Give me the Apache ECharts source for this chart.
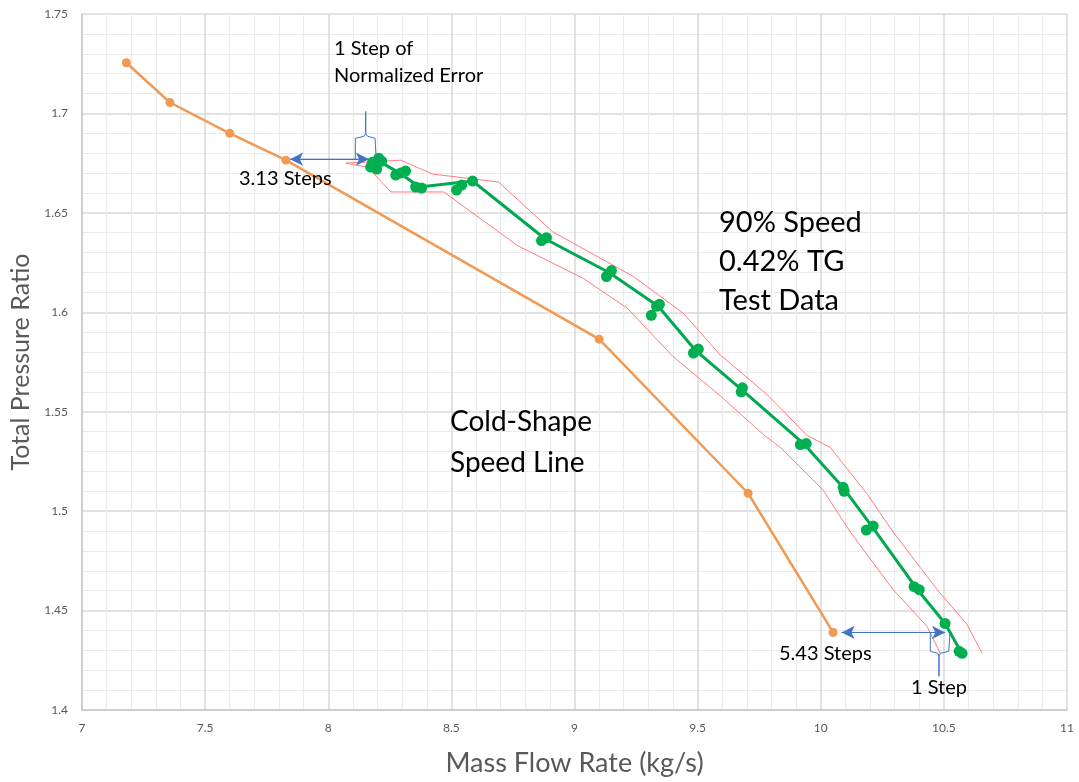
<!DOCTYPE html>
<html>
<head>
<meta charset="utf-8">
<script src="https://cdn.jsdelivr.net/npm/echarts@6/dist/echarts.min.js"></script>
<style>html,body{margin:0;padding:0;background:#fff}#c{width:1079px;height:782px}</style>
</head>
<body>
<div id="c"></div>
<script>
// Cold-shape speed line (orange)
const coldShape = [[7.18,1.7255],[7.357,1.7055],[7.60,1.690],[7.828,1.6765],[9.10,1.5865],[9.705,1.509],[10.05,1.439]];
// Test data points (green dots)
const testPoints = [
  [8.18,1.6755],[8.205,1.6775],[8.172,1.673],[8.197,1.672],[8.217,1.676],
  [8.274,1.669],[8.294,1.670],[8.314,1.671],
  [8.355,1.663],[8.379,1.6625],
  [8.521,1.6615],[8.542,1.664],[8.586,1.666],
  [8.866,1.636],[8.886,1.6375],
  [9.130,1.618],[9.150,1.621],
  [9.333,1.603],[9.345,1.604],[9.312,1.5985],
  [9.483,1.5795],[9.503,1.5815],
  [9.677,1.560],[9.682,1.562],
  [9.917,1.5335],[9.941,1.534],
  [10.091,1.512],[10.095,1.510],
  [10.185,1.4905],[10.213,1.4925],
  [10.379,1.462],[10.400,1.4605],
  [10.505,1.4435],
  [10.562,1.4295],[10.574,1.4285]
];
// Test data speed line (green line through point groups)
const testLine = [[8.205,1.676],[8.29,1.670],[8.37,1.663],[8.586,1.666],[8.88,1.637],[9.14,1.620],[9.34,1.603],[9.49,1.581],[9.68,1.561],[9.93,1.534],[10.09,1.512],[10.21,1.492],[10.39,1.461],[10.505,1.4435],[10.57,1.429]];
// Normalized error band (red), upper and lower edges
const bandUpper = [[8.071,1.675],[8.294,1.6765],[8.424,1.6695],[8.692,1.6655],[8.911,1.6405],[9.239,1.618],[9.442,1.5995],[9.592,1.5785],[9.783,1.5585],[9.945,1.538],[10.039,1.532],[10.189,1.5085],[10.294,1.4895],[10.473,1.4605],[10.594,1.443],[10.655,1.4285]];
const bandLower = [[8.071,1.675],[8.160,1.673],[8.254,1.6605],[8.469,1.6605],[8.769,1.6335],[9.036,1.617],[9.215,1.602],[9.398,1.578],[9.592,1.558],[9.767,1.5385],[9.836,1.532],[10.010,1.5105],[10.120,1.4895],[10.294,1.4605],[10.432,1.442],[10.485,1.4285]];
// Annotation arrows (step distances)
const arrowTop = [[7.845,1.677],[8.165,1.677]];
const arrowBottom = [[10.085,1.439],[10.505,1.439]];
// Braces (1 step)
const braceTop = [[8.11,1.6765],[8.11,1.6875],[8.145,1.6885],[8.152,1.690],[8.152,1.701],[8.152,1.690],[8.16,1.6885],[8.19,1.6875],[8.195,1.6765]];
const braceBottom = [[10.445,1.439],[10.445,1.4295],[10.475,1.4285],[10.48,1.427],[10.48,1.417],[10.48,1.427],[10.485,1.4285],[10.52,1.4295],[10.525,1.439]];

const xTicks = {min:7, max:11, interval:0.5};
const yTicks = {min:1.4, max:1.75, interval:0.05};

const FONT = 'Lato';
const chart = echarts.init(document.getElementById('c'), null, {renderer:'canvas'});
const blue = '#4472c4';
function txt(left, top, text, size, lh){
  return {type:'text', left:left, top:top, z:100,
    style:{text:text, fontFamily:FONT, fontSize:size, fill:'#000', lineHeight:lh||size*1.2}};
}
const option = {
  animation:false,
  backgroundColor:'#fff',
  grid:{left:81, right:12, top:14, bottom:68, containLabel:false},
  xAxis:{
    type:'value', min:xTicks.min, max:xTicks.max, interval:xTicks.interval,
    name:'Mass Flow Rate (kg/s)', nameLocation:'middle', nameGap:40,
    nameTextStyle:{fontFamily:FONT, fontSize:27, color:'#595959'},
    axisLine:{show:true, lineStyle:{color:'#c8c8c8', width:1.5}},
    axisTick:{show:false},
    axisLabel:{fontFamily:FONT, fontSize:12, color:'#595959', margin:12, formatter:v=>String(+v.toFixed(2))},
    splitLine:{show:true, lineStyle:{color:'#d9d9d9', width:1.5}},
    minorTick:{show:false, splitNumber:5},
    minorSplitLine:{show:true, lineStyle:{color:'#ebebeb', width:1.2}}
  },
  yAxis:{
    type:'value', min:yTicks.min, max:yTicks.max, interval:yTicks.interval,
    name:'Total Pressure Ratio', nameLocation:'middle', nameGap:49, nameRotate:90,
    nameTextStyle:{fontFamily:FONT, fontSize:25, color:'#595959'},
    axisLine:{show:true, lineStyle:{color:'#c8c8c8', width:1.5}},
    axisTick:{show:false},
    axisLabel:{fontFamily:FONT, fontSize:12, color:'#595959', margin:14, formatter:v=>String(+v.toFixed(2))},
    splitLine:{show:true, lineStyle:{color:'#d9d9d9', width:1.5}},
    minorTick:{show:false, splitNumber:5},
    minorSplitLine:{show:true, lineStyle:{color:'#ebebeb', width:1.2}}
  },
  series:[
    {type:'line', data:bandUpper, symbol:'none', lineStyle:{color:'#ff7c80', width:1}, z:2},
    {type:'line', data:bandLower, symbol:'none', lineStyle:{color:'#ff7c80', width:1}, z:2},
    {type:'line', data:coldShape, symbol:'circle', symbolSize:9,
      itemStyle:{color:'#f19a55'}, lineStyle:{color:'#f19a55', width:2.5}, z:3},
    {type:'line', data:testLine, symbol:'none', lineStyle:{color:'#00a84f', width:3}, z:4},
    {type:'scatter', data:testPoints, symbolSize:11, itemStyle:{color:'#00b050', opacity:1}, z:5},
    {type:'line', data:braceTop, symbol:'none', lineStyle:{color:blue, width:1}, z:6},
    {type:'line', data:braceBottom, symbol:'none', lineStyle:{color:blue, width:1}, z:6},
    {type:'line', data:arrowTop, symbol:'none', lineStyle:{color:blue, width:1}, z:6,
      markLine:{silent:true, symbol:['arrow','arrow'], symbolSize:[10,13], label:{show:false},
        lineStyle:{color:blue, width:1, type:'solid'},
        data:[[{coord:arrowTop[0]},{coord:arrowTop[1]}]]}},
    {type:'line', data:arrowBottom, symbol:'none', lineStyle:{color:blue, width:1}, z:6,
      markLine:{silent:true, symbol:['arrow','arrow'], symbolSize:[10,13], label:{show:false},
        lineStyle:{color:blue, width:1, type:'solid'},
        data:[[{coord:arrowBottom[0]},{coord:arrowBottom[1]}]]}}
  ],
  graphic:[
    txt(334, 35, '1 Step of\nNormalized Error', 20, 27),
    txt(239, 167, '3.13 Steps', 20),
    txt(719, 203, '90% Speed\n0.42% TG\nTest Data', 29, 39),
    txt(450, 401, 'Cold-Shape\nSpeed Line', 28, 41),
    txt(779, 642, '5.43 Steps', 20),
    txt(911, 676, '1 Step', 20)
  ]
};
chart.setOption(option);
</script>
</body>
</html>
